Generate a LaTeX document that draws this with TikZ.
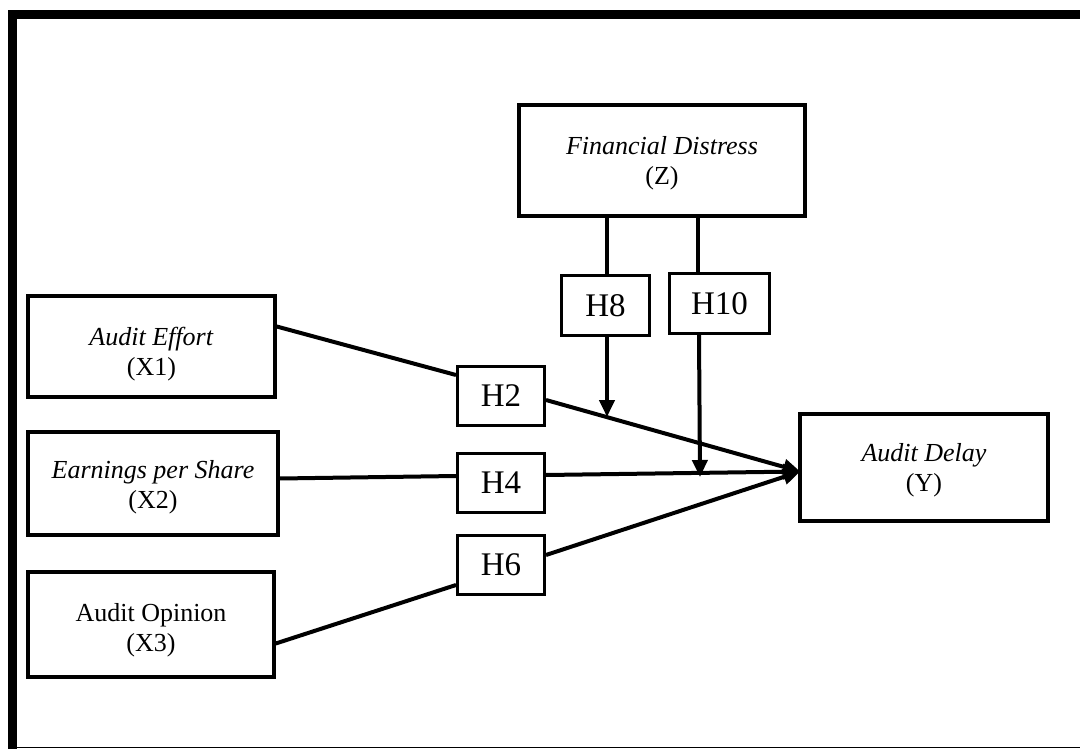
\documentclass[tikz,border=0pt]{standalone}
\usepackage{fontspec}
\setmainfont{Liberation Serif}
\usetikzlibrary{arrows.meta,calc}
\begin{document}
\begin{tikzpicture}[x=1pt,y=-1pt,
  varbox/.style={draw,line width=3.5pt,inner sep=0pt},
  vartext/.style={align=center,inner sep=0pt,font=\fontsize{26}{30}\selectfont},
  hbox/.style={draw,line width=3pt,inner sep=0pt,
    font=\fontsize{33}{36}\selectfont},
  conn/.style={line width=4pt},
  arr/.style={line width=4pt,-{Triangle[length=17pt,width=15pt]}}]
\useasboundingbox (0,0) rectangle (1080,749);
% outer frame
\fill (8,10) rectangle (1080,19);
\fill (8,10) rectangle (17,749);
\draw[line width=1.2pt] (17,747.6) -- (1080,747.6);
% variable boxes
\node[varbox,minimum width=286pt,minimum height=111pt,
  label={[vartext,yshift=-3pt]center:\textit{Financial Distress}\\(Z)}] (Z) at (662,160.5) {};
\node[varbox,minimum width=247pt,minimum height=101pt,
  label={[vartext,yshift=-8pt]center:\textit{Audit Effort}\\(X1)}] (X1) at (151.5,346.5) {};
\node[varbox,minimum width=250pt,minimum height=103pt,
  label={[vartext,yshift=-4pt]center:\textit{Earnings per Share}\\(X2)}] (X2) at (153,483.5) {};
\node[varbox,minimum width=246pt,minimum height=105pt,
  label={[vartext,yshift=-6pt]center:Audit Opinion\\(X3)}] (X3) at (151,624.5) {};
\node[varbox,minimum width=248pt,minimum height=107pt,
  label={[vartext,yshift=-3pt]center:\textit{Audit Delay}\\(Y)}] (Y) at (924,467.5) {};
% hypothesis boxes
\node[hbox,minimum width=87pt,minimum height=59pt] (H2) at (501,396) {H2};
\node[hbox,minimum width=87pt,minimum height=59pt] (H4) at (501,483) {H4};
\node[hbox,minimum width=87pt,minimum height=59pt] (H6) at (501,565) {H6};
\node[hbox,minimum width=88pt,minimum height=60pt] (H8) at (605.5,305.5) {H8};
\node[hbox,minimum width=100pt,minimum height=60pt] (H10) at (719.5,303.5) {H10};
% coordinates
\coordinate (yin) at ($(Y.west)+(2,4)$);
\coordinate (t8) at (607,417);
\coordinate (t10) at (700,477);
% connectors from X to H
\draw[conn] ([yshift=20pt]X1.east) -- ([yshift=21pt]H2.west);
\draw[conn] ([yshift=5pt]X2.east) -- ([yshift=7pt]H4.west);
\draw[conn] ([yshift=-19pt]X3.east) -- ([yshift=-20pt]H6.west);
% connectors from H to Y
\draw[arr] ([yshift=-4pt]H2.east) -- (yin);
\draw[arr] ([yshift=8pt]H4.east) -- (yin);
\draw[arr] ([yshift=10pt]H6.east) -- (yin);
% moderating links
\draw[conn] ([xshift=1.5pt]H8.north) -- ([xshift=1.5pt]H8.north |- Z.south);
\draw[conn] ([xshift=-21.5pt]H10.north) -- ([xshift=-21.5pt,yshift=2pt]H10.north |- Z.south);
\draw[arr] ([xshift=1.5pt]H8.south) -- (t8);
\draw[arr] ([xshift=-20.5pt]H10.south) -- (t10);
\end{tikzpicture}
\end{document}
